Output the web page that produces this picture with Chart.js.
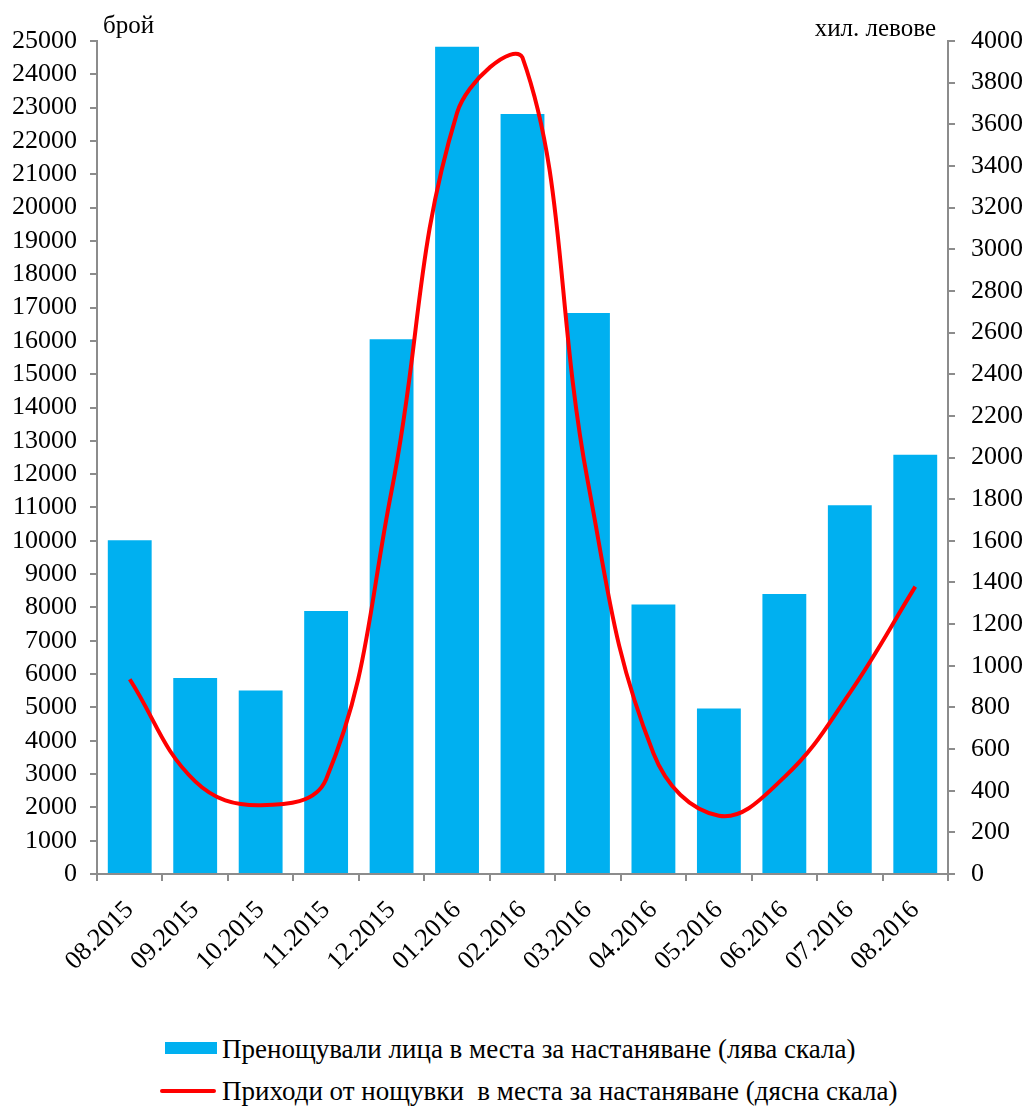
<!DOCTYPE html>
<html>
<head>
<meta charset="utf-8">
<script src="https://cdn.jsdelivr.net/npm/chart.js@4/dist/chart.umd.min.js"></script>
<style>
  body { margin:0; background:#fff; }
  #wrap { position:relative; width:1028px; height:1106px; }
  #legend { position:absolute; left:0; top:1034px; font-family:'Liberation Serif','Times New Roman',serif; font-size:27px; color:#000; }
  .lg-row { position:absolute; white-space:pre; left:0; height:30px; }
  .lg-txt { position:absolute; left:222px; top:0; line-height:30px; white-space:pre; }
</style>
</head>
<body>
<div id="wrap">
  <canvas id="c" width="1028" height="1010"></canvas>
  <div id="legend"></div>
</div>
<script>
// data
var categories = ['08.2015', '09.2015', '10.2015', '11.2015', '12.2015', '01.2016', '02.2016',
                  '03.2016', '04.2016', '05.2016', '06.2016', '07.2016', '08.2016'];
var guests = [10020, 5880, 5510, 7890, 16050, 24830, 22810, 16840, 8090, 4970, 8400, 11070, 12580];
var revenue = [935, 445, 330, 455, 1840, 3655, 3920, 1880, 580, 280, 465, 870, 1380];
var leftTitle = 'брой';
var rightTitle = 'хил. левове';
var guestsLabel = 'Пренощували лица в места за настаняване (лява скала)';
var revenueLabel = 'Приходи от нощувки  в места за настаняване (дясна скала)';

var FONT = "'Liberation Serif', 'Times New Roman', serif";
var axisGray = '#8c8c8c';

var axisTitles = {
  id: 'axisTitles',
  afterDraw: function(chart) {
    var ctx = chart.ctx, a = chart.chartArea;
    ctx.save();
    ctx.font = '25px ' + FONT;
    ctx.fillStyle = '#000';
    ctx.textBaseline = 'alphabetic';
    ctx.textAlign = 'left';
    ctx.fillText(leftTitle, a.left + 6, 33);
    ctx.textAlign = 'right';
    ctx.fillText(rightTitle, a.right - 12, 36);
    ctx.restore();
  }
};

new Chart(document.getElementById('c'), {
  data: {
    labels: categories,
    datasets: [
      {
        type: 'line',
        label: revenueLabel,
        data: revenue,
        yAxisID: 'y1',
        borderColor: '#ff0000',
        borderWidth: 4,
        pointRadius: 0,
        tension: 0.4,
        fill: false,
        order: 0
      },
      {
        type: 'bar',
        label: guestsLabel,
        data: guests,
        yAxisID: 'y',
        backgroundColor: '#00b0f0',
        categoryPercentage: 1,
        barPercentage: 0.67,
        order: 1
      }
    ]
  },
  options: {
    responsive: false,
    animation: false,
    layout: { padding: { top: 41, left: 0, right: 0, bottom: 0 } },
    plugins: { legend: { display: false }, tooltip: { enabled: false } },
    scales: {
      x: {
        offset: true,
        grid: { offset: true, drawOnChartArea: false, color: axisGray, tickLength: 7, lineWidth: 2 },
        border: { color: axisGray, width: 2 },
        ticks: { font: { family: FONT, size: 26 }, color: '#000', maxRotation: 45, minRotation: 45, padding: 14, autoSkip: false },
        afterFit: function(s) { s.height = 136; }
      },
      y: {
        position: 'left',
        min: 0, max: 25000,
        ticks: { stepSize: 1000, autoSkip: false, font: { family: FONT, size: 26 }, color: '#000', padding: 13,
                 callback: function(v) { return String(v); } },
        grid: { drawOnChartArea: false, color: axisGray, tickLength: 7, lineWidth: 2 },
        border: { color: axisGray, width: 2 },
        afterFit: function(s) { s.width = 97; }
      },
      y1: {
        position: 'right',
        min: 0, max: 4000,
        ticks: { stepSize: 200, autoSkip: false, font: { family: FONT, size: 26 }, color: '#000', padding: 16,
                 callback: function(v) { return String(v); } },
        grid: { drawOnChartArea: false, color: axisGray, tickLength: 7, lineWidth: 2 },
        border: { color: axisGray, width: 2 },
        afterFit: function(s) { s.width = 80; }
      }
    }
  },
  plugins: [axisTitles]
});

// legend below the chart
var legend = document.getElementById('legend');
var row1 = document.createElement('div');
row1.className = 'lg-row';
row1.style.top = '0px';
row1.innerHTML = '<span style="position:absolute;left:165px;top:8px;width:52px;height:12px;background:#00b0f0;"></span>' +
  '<span class="lg-txt"></span>';
row1.querySelector('.lg-txt').textContent = guestsLabel;
legend.appendChild(row1);
var row2 = document.createElement('div');
row2.className = 'lg-row';
row2.style.top = '42px';
row2.innerHTML = '<span style="position:absolute;left:160px;top:13px;width:56px;height:4px;border-radius:2px;background:#ff0000;"></span>' +
  '<span class="lg-txt"></span>';
row2.querySelector('.lg-txt').textContent = revenueLabel;
legend.appendChild(row2);
</script>
</body>
</html>
